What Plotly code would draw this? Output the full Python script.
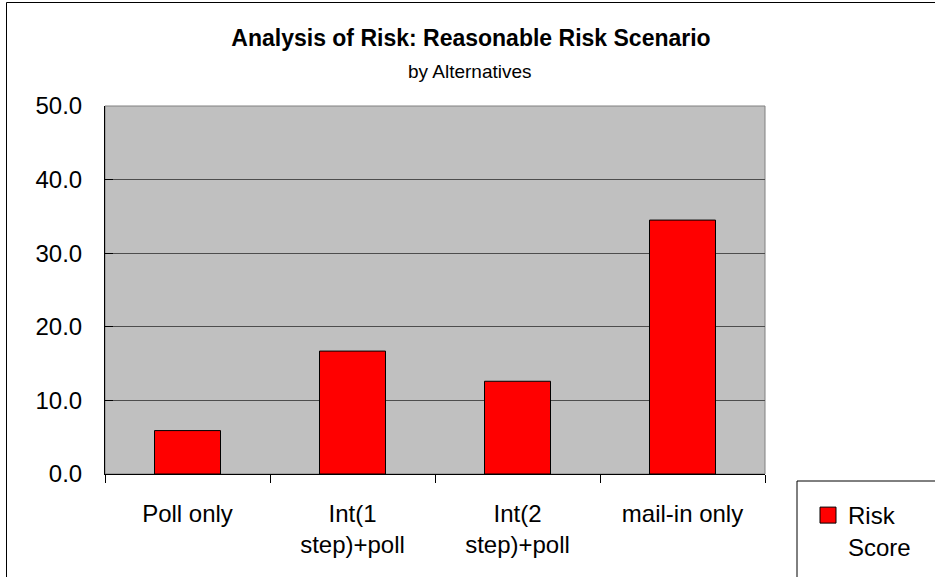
import plotly.graph_objects as go

categories = ["Poll only", "Int(1<br>step)+poll", "Int(2<br>step)+poll", "mail-in only"]
risk_score = [5.9, 16.7, 12.6, 34.5]
series_name = "Risk<br>Score"
title_text = "<b>Analysis of Risk: Reasonable Risk Scenario</b>"
subtitle_text = "by Alternatives"
y_ticks = [0, 10, 20, 30, 40, 50]

FONT = "Liberation Sans, Arial, sans-serif"
W, H = 935, 577
ML, MR, MT, MB = 105, 170, 106, 103
pw = W - ML - MR
ph = H - MT - MB

def px_x(px):
    return (px - ML) / pw

def px_y(py):
    return (H - MB - py) / ph

fig = go.Figure()
fig.add_trace(go.Bar(
    x=categories, y=risk_score, showlegend=False,
    marker=dict(color="#FF0000", line=dict(color="#000000", width=1)),
))
# legend entry with a square swatch
fig.add_trace(go.Scatter(
    x=[None], y=[None], mode="markers", name=series_name,
    marker=dict(symbol="square", size=16, color="#FF0000",
                line=dict(color="#000000", width=1)),
))

fig.update_layout(
    width=W, height=H,
    margin=dict(l=ML, r=MR, t=MT, b=MB, autoexpand=False),
    paper_bgcolor="white", plot_bgcolor="#C0C0C0",
    font=dict(family=FONT, size=24, color="black"),
    bargap=0.6,
    title=dict(text=title_text, font=dict(family=FONT, size=23, color="black"),
               x=px_x(471), xref="paper", xanchor="center",
               y=1 - 30 / H, yref="container", yanchor="top"),
    annotations=[dict(text=subtitle_text, xref="paper", yref="paper",
                      x=px_x(470), y=px_y(71), xanchor="center", yanchor="middle",
                      showarrow=False, font=dict(family=FONT, size=19, color="black"))],
    legend=dict(x=px_x(808), y=px_y(493), xanchor="left", yanchor="top",
                bgcolor="rgba(0,0,0,0)", borderwidth=0, valign="top",
                font=dict(family=FONT, size=24, color="black"),
                itemsizing="trace"),
    shapes=[
        # plot area border
        dict(type="rect", xref="paper", yref="paper", x0=0, x1=1, y0=0, y1=1,
             line=dict(color="#808080", width=1), layer="below"),
        # outer chart border
        dict(type="rect", xref="paper", yref="paper",
             x0=px_x(6.5), x1=px_x(945), y0=px_y(590), y1=px_y(2.5),
             line=dict(color="#000000", width=1)),
        # legend box
        dict(type="rect", xref="paper", yref="paper",
             x0=px_x(797), x1=px_x(950), y0=px_y(600), y1=px_y(481),
             line=dict(color="#000000", width=1)),
    ],
)

fig.update_xaxes(
    type="category", tickson="boundaries", ticks="outside", ticklen=8,
    tickcolor="#000000", showline=True, linecolor="#000000", linewidth=1,
    showgrid=False, tickfont=dict(family=FONT, size=24, color="black"),
    ticklabelstandoff=18, automargin=False,
)
fig.update_yaxes(
    range=[0, 50], tickvals=y_ticks, tickformat=".1f", ticks="inside", ticklen=8,
    tickcolor="#000000", showline=True, linecolor="#000000", linewidth=1,
    showgrid=True, gridcolor="#4d4d4d", gridwidth=1, zeroline=False,
    tickfont=dict(family=FONT, size=24, color="black"), ticklabelstandoff=17,
    automargin=False,
)

fig.write_html("out.html", config={"displayModeBar": False},
               post_script="document.body.style.margin='0';")
